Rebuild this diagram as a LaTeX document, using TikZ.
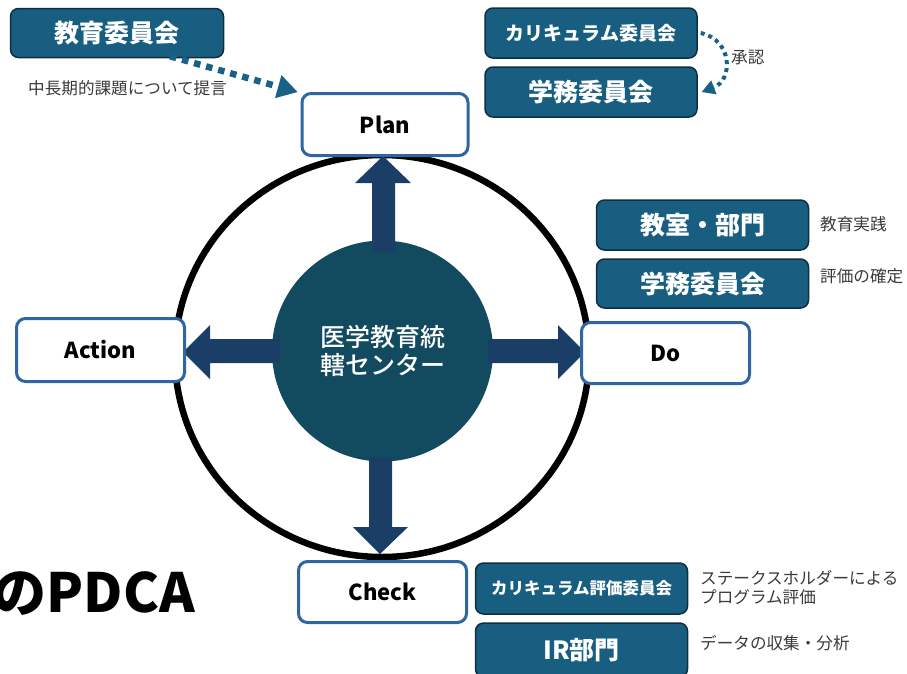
\documentclass[tikz,border=0pt]{standalone}
\usepackage{fontspec}
\setmainfont{Noto Sans CJK JP}
\newfontfamily\medfont{Noto Sans CJK JP Medium}
\usetikzlibrary{arrows.meta}
\definecolor{boxfill}{HTML}{175E80}
\definecolor{boxline}{HTML}{0E2F40}
\definecolor{hubc}{HTML}{124A60}
\definecolor{arrowc}{HTML}{1B3E66}
\definecolor{pdcaline}{HTML}{2E65A2}
\definecolor{dotc}{HTML}{1A6285}
\definecolor{labelc}{HTML}{3A3A3A}
\begin{document}
\begin{tikzpicture}[x=1pt,y=-1pt,
  darkbox/.style={draw=boxline, line width=1.5pt, fill=boxfill, rounded corners=8pt,
    text=white, inner sep=0pt, minimum width=212pt, minimum height=50pt},
  big/.style={font=\bfseries\fontsize{25}{28}\selectfont},
  phase/.style={draw=pdcaline, line width=3pt, fill=white, rounded corners=9pt,
    font=\bfseries\fontsize{22}{24}\selectfont, minimum width=166pt, minimum height=62pt, inner sep=0pt},
  lbl/.style={text=labelc, font=\fontsize{16.6}{19}\selectfont, anchor=west, inner sep=0pt, align=left},
  blk/.style={fill=arrowc},
  dotted arrow/.style={draw=dotc, line width=6.5pt, dash pattern=on 6.5pt off 6pt,
    -{Triangle[length=20pt,width=24pt,line width=0pt]}}
]
\useasboundingbox (0,0) rectangle (907,673);

% big cycle ellipse
\draw[line width=6.5pt] (382,356) ellipse [x radius=207, y radius=201];

% hub
\node[circle, fill=hubc, minimum size=221pt, inner sep=0pt, text=white,
  font=\medfont\fontsize{25}{28}\selectfont, align=center] (hub) at (382.5,351)
  {医学教育統\\轄センター};

% block arrows
\fill[blk] (372,252) -- (372,183) -- (355,183) -- (383,156) -- (411,183) -- (395,183) -- (395,252) -- cycle;
\fill[blk] (280,339) -- (210,339) -- (210,325) -- (183,352) -- (210,379) -- (210,363) -- (280,363) -- cycle;
\fill[blk] (488,339) -- (558,339) -- (558,325) -- (585,352) -- (558,379) -- (558,363) -- (488,363) -- cycle;
\fill[blk] (369,457) -- (369,527) -- (353,527) -- (380,554) -- (408,527) -- (392,527) -- (392,457) -- cycle;

% PDCA phases
\node[phase] (plan) at (385,124.5) {Plan};
\node[phase, minimum width=168pt, minimum height=63pt] (action) at (100.5,350) {Action};
\node[phase, minimum width=168pt, minimum height=61pt] (do) at (665.5,353) {Do};
\node[phase, minimum width=168pt, minimum height=61pt] (check) at (382.5,592) {Check};

% dark boxes
\node[darkbox, big, minimum width=213pt, minimum height=49pt] (kyoiku) at (117,33) {教育委員会};
\node[darkbox, font=\bfseries\fontsize{19}{22}\selectfont] (curr) at (591,33) {カリキュラム委員会};
\node[darkbox, big] (gakumu1) at (591,92) {学務委員会};
\node[darkbox, big] (kyoshitsu) at (702.5,225) {教室・部門};
\node[darkbox, big, minimum height=49pt] (gakumu2) at (702.5,283.5) {学務委員会};
\node[darkbox, font=\bfseries\fontsize{16.5}{20}\selectfont, minimum height=51pt] (curreval) at (581.5,588.5) {カリキュラム評価委員会};
\node[darkbox, big, minimum height=54pt] (ir) at (581.5,650) {IR部門};

% dotted connectors
\coordinate (d1s) at ([xshift=53pt,yshift=2pt]kyoiku.south);
\coordinate (d1e) at ([xshift=-3pt,yshift=0pt]plan.north west);
\draw[dotted arrow] (d1s) -- (d1e);
\coordinate (d2s) at ([xshift=3pt]curr.east);
\coordinate (d2e) at ([xshift=4pt]gakumu1.east);
\draw[draw=dotc, line width=4pt, dash pattern=on 4pt off 4pt,
  -{Triangle[length=13pt,width=15pt,line width=0pt]}]
  (d2s) .. controls (733,40) and (733,80) .. (d2e);

% labels
\node[lbl] (l1) at (28,88) {中長期的課題について提言};
\node[lbl] (l2) at (731,58) {承認};
\node[lbl] (l3) at (820,224) {教育実践};
\node[lbl] (l4) at (820,276) {評価の確定};
\node[lbl] (l5) at (700,587.5) {ステークスホルダーによる\\プログラム評価};
\node[lbl] (l6) at (700,643) {データの収集・分析};

% title fragment
\node[anchor=base east, inner sep=0pt, font=\bfseries\fontsize{54}{60}\selectfont] (title) at (195,612) {のPDCA};
\end{tikzpicture}
\end{document}
